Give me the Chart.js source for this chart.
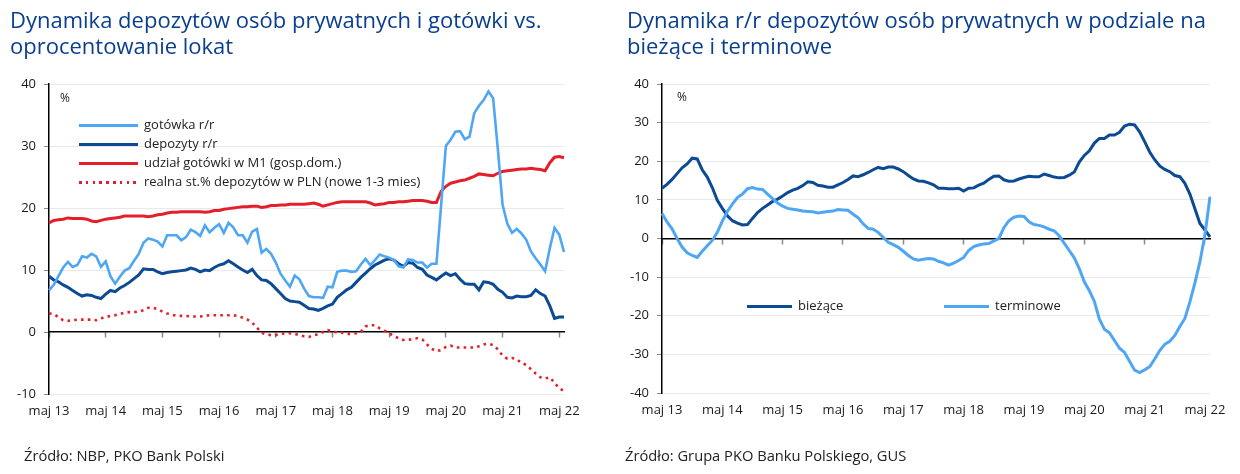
<!DOCTYPE html>
<html><head><meta charset="utf-8">
<script src="https://cdn.jsdelivr.net/npm/chart.js@4"></script>
<style>
html,body{margin:0;padding:0;background:#fff;}
#wrap{position:relative;width:1240px;height:474px;overflow:hidden;font-family:'Open Sans',sans-serif;}
canvas{position:absolute;top:0;}
.title{position:absolute;color:#0a3f8f;font-size:22px;line-height:26px;white-space:nowrap;}
.src{position:absolute;color:#222;font-size:14.7px;white-space:nowrap;}
.pct{position:absolute;color:#222;font-size:12px;}
.leg{position:absolute;font-size:13px;color:#222;white-space:nowrap;line-height:16px;}
.sw{position:absolute;height:3px;}
</style></head>
<body>
<div id="wrap">
  <canvas id="c1" width="620" height="474" style="left:0"></canvas>
  <canvas id="c2" width="620" height="474" style="left:620px"></canvas>
  <div class="title" style="left:10px;top:6px">Dynamika depozytów osób prywatnych i gotówki vs.<br>oprocentowanie lokat</div>
  <div class="title" style="left:627px;top:6px">Dynamika r/r depozytów osób prywatnych w podziale na<br>bieżące i terminowe</div>
  <div class="pct" style="left:60px;top:89px">%</div>
  <div class="pct" style="left:677px;top:88px">%</div>
  <div id="leg1"></div>
  <div id="leg2"></div>
  <div class="src" style="left:24px;top:445px">Źródło: NBP, PKO Bank Polski</div>
  <div class="src" style="left:625px;top:445px">Źródło: Grupa PKO Banku Polskiego, GUS</div>
</div>
<script>
// ---------- DATA ----------
const monthNames = ['sty','lut','mar','kwi','maj','cze','lip','sie','wrz','paź','lis','gru'];
const categories = [];
for (let k = 0; k < 110; k++) { const m = (4 + k) % 12; const y = 13 + Math.floor((4 + k) / 12); categories.push(monthNames[m] + ' ' + y); }
const tickLabels = ['maj 13','maj 14','maj 15','maj 16','maj 17','maj 18','maj 19','maj 20','maj 21','maj 22'];

const gotowka = [6.7,7.6,9.0,10.4,11.3,10.5,10.8,12.2,12.0,12.6,
12.2,10.5,11.4,9.0,7.8,8.9,9.9,10.3,11.5,12.6,
14.4,15.1,14.9,14.6,13.8,15.6,15.6,15.6,14.8,15.3,
16.5,16.1,15.5,17.2,16.1,16.8,17.4,16.0,17.6,16.9,
15.6,15.6,14.4,16.2,16.6,12.8,13.4,12.6,11.2,9.4,
8.3,7.3,9.1,8.5,7.0,5.8,5.6,5.6,5.5,7.3,
7.2,9.7,9.9,9.9,9.7,9.8,10.9,11.8,10.8,11.6,
12.5,12.2,12.0,11.6,10.6,10.4,11.7,11.6,11.2,11.2,
10.4,11.0,11.0,20.5,30.0,31.0,32.3,32.4,31.1,31.5,
35.3,36.5,37.4,38.8,37.7,29.5,20.5,17.5,16.0,16.6,
15.9,14.9,13.0,11.9,10.9,9.8,13.5,16.8,15.7,12.9];

const depozyty = [9.0,8.4,8.1,7.6,7.2,6.7,6.2,5.8,6.0,5.9,
5.6,5.4,6.1,6.7,6.5,7.1,7.5,8.0,8.6,9.2,
10.2,10.1,10.1,9.7,9.4,9.6,9.7,9.8,9.9,10.0,
10.3,10.1,9.7,10.0,9.9,10.4,10.8,11.0,11.5,11.0,
10.5,10.0,9.6,10.1,9.1,8.4,8.3,7.8,7.0,6.2,
5.4,5.0,4.9,4.8,4.3,3.8,3.7,3.5,3.8,4.2,
4.5,5.6,6.2,6.8,7.2,8.0,8.8,9.5,10.2,10.8,
11.2,11.6,11.8,11.6,11.0,10.6,11.2,11.1,10.4,10.1,
9.2,8.8,8.4,9.0,9.5,9.1,9.4,8.5,7.8,7.7,
7.7,6.8,8.1,8.0,7.7,6.9,6.4,5.6,5.5,5.8,
5.7,5.7,5.9,6.8,6.2,5.8,4.2,2.2,2.4,2.4];

const udzialM1 = [17.6,18.0,18.1,18.2,18.4,18.3,18.3,18.3,18.2,17.9,
17.8,18.0,18.2,18.3,18.4,18.5,18.7,18.7,18.7,18.7,
18.7,18.6,18.7,18.9,19.0,19.2,19.3,19.3,19.4,19.4,
19.4,19.4,19.4,19.3,19.4,19.6,19.6,19.8,19.9,20.0,
20.1,20.2,20.2,20.3,20.3,20.1,20.2,20.4,20.4,20.5,
20.5,20.6,20.6,20.6,20.6,20.7,20.8,20.6,20.3,20.5,
20.7,20.9,21.0,21.0,21.0,21.0,21.0,21.0,20.8,20.5,
20.6,20.7,20.9,20.9,21.0,21.0,21.1,21.2,21.2,21.2,
21.1,20.9,20.9,22.7,23.5,24.0,24.2,24.4,24.5,24.8,
25.1,25.5,25.4,25.3,25.2,25.6,25.9,26.0,26.1,26.2,
26.3,26.3,26.4,26.3,26.2,26.0,27.3,28.2,28.3,28.1];

const realna = [3.0,2.9,2.4,1.9,1.8,1.9,2.0,2.0,2.0,2.0,
1.9,2.2,2.4,2.6,2.7,2.9,3.1,3.2,3.2,3.3,
3.5,3.9,3.9,3.7,3.3,3.0,2.8,2.6,2.6,2.6,
2.5,2.5,2.5,2.6,2.7,2.7,2.7,2.7,2.7,2.7,
2.6,2.3,2.0,1.5,0.7,-0.1,-0.4,-0.5,-0.5,-0.3,
-0.2,-0.2,-0.3,-0.5,-0.7,-0.8,-0.5,-0.4,0.0,0.3,
0.1,-0.1,-0.1,-0.3,-0.3,-0.2,0.0,0.9,1.1,1.1,
0.6,0.2,-0.2,-0.7,-1.0,-1.3,-1.3,-1.1,-1.0,-1.2,
-2.0,-2.7,-3.1,-2.9,-2.4,-2.2,-2.5,-2.5,-2.5,-2.5,
-2.5,-2.3,-2.0,-1.9,-2.1,-2.8,-3.8,-4.3,-4.2,-4.4,
-5.0,-5.3,-6.0,-6.7,-7.3,-7.5,-7.3,-8.2,-9.1,-9.5];

const biezace = [13.0,14.0,15.3,16.8,18.3,19.3,20.8,20.6,17.8,15.9,
13.2,9.9,7.8,5.9,4.6,4.0,3.5,3.6,5.2,6.7,
7.8,8.7,9.6,10.2,11.0,11.9,12.5,13.0,13.7,14.7,
14.5,13.8,13.6,13.3,13.3,13.9,14.5,15.3,16.2,16.0,
16.5,17.1,17.8,18.4,18.1,18.5,18.5,18.0,17.3,16.3,
15.4,14.9,14.8,14.4,13.9,13.0,13.0,12.9,12.9,13.0,
12.3,13.0,13.1,13.8,14.3,15.3,16.1,16.2,15.2,14.8,
14.9,15.4,15.8,16.1,16.0,16.0,16.7,16.3,15.9,15.7,
15.8,16.4,17.2,19.8,21.5,22.7,24.7,25.9,25.9,26.8,
26.8,27.5,29.1,29.6,29.4,27.6,25.1,22.4,20.4,18.8,
17.9,17.3,16.3,16.0,14.3,11.5,7.7,3.9,2.2,0.4];

const terminowe = [6.5,4.3,2.5,0.0,-2.2,-3.7,-4.4,-4.9,-3.3,-1.9,
-0.5,1.6,4.5,7.0,8.9,10.6,11.5,12.9,13.2,12.8,
12.7,11.5,10.3,9.2,8.4,7.8,7.6,7.4,7.1,7.0,
6.9,6.6,6.8,7.0,7.1,7.5,7.4,7.3,6.3,5.4,
3.8,2.6,2.4,1.6,0.3,-1.0,-1.6,-2.3,-3.3,-4.4,
-5.3,-5.6,-5.4,-5.2,-5.3,-5.9,-6.3,-6.9,-6.4,-5.7,
-4.9,-3.1,-2.1,-1.7,-1.4,-1.3,-0.6,0.0,2.8,4.6,
5.5,5.8,5.7,4.3,3.6,3.4,3.0,2.4,2.0,0.7,
-1.2,-3.1,-5.0,-7.8,-11.2,-13.5,-16.3,-20.9,-23.5,-24.4,
-26.4,-28.4,-29.5,-31.8,-34.1,-34.7,-34.0,-33.2,-31.2,-29.0,
-27.4,-26.6,-25.1,-22.8,-20.7,-16.4,-11.5,-6.0,1.0,10.8];

// ---------- STYLE ----------
const C_DARK = '#0c4a94';
const C_LIGHT = '#4ea6f4';
const C_RED = '#e3202a';
const FONT = "'Open Sans', sans-serif";

Chart.defaults.font.family = FONT;
Chart.defaults.font.size = 13;
Chart.defaults.color = '#222';
Chart.defaults.devicePixelRatio = 1;

function makeConfig(datasets, yMin, yMax, yWidth, pad) {
  return {
    type: 'line',
    data: { labels: categories, datasets },
    options: {
      responsive: false,
      animation: false,
      events: [],
      layout: { padding: pad },
      plugins: { legend: { display: false }, tooltip: { enabled: false } },
      elements: { point: { radius: 0 }, line: { tension: 0 } },
      scales: {
        x: {
          type: 'category',
          position: 'bottom',
          offset: false,
          grid: { display: false, drawTicks: false },
          border: { display: false },
          ticks: {
            autoSkip: false, maxRotation: 0, minRotation: 0, padding: 9,
            font: { size: 13 }, color: '#1a1a1a',
            callback: function (v, i) { const l = categories[i]; return tickLabels.includes(l) ? l : ''; }
          },
          afterFit: s => { s.height = 30; }
        },
        x0: {
          type: 'category',
          position: { y: 0 },
          offset: false,
          grid: {
            drawOnChartArea: false, drawTicks: true, tickLength: 5,
            color: 'transparent',
            tickColor: ctx => tickLabels.includes(categories[ctx.index]) ? '#8a8a8a' : 'transparent',
            tickWidth: 1.5
          },
          border: { display: true, color: '#000', width: 1.5 },
          ticks: { display: false }
        },
        y: {
          min: yMin, max: yMax,
          ticks: { stepSize: 10, padding: 8, font: { size: 13 }, color: '#1a1a1a' },
          grid: {
            color: ctx => ctx.tick && ctx.tick.value === 0 ? 'transparent' : '#e9e9e9',
            tickColor: '#8a8a8a', tickLength: 5, lineWidth: 1
          },
          border: { display: true, color: '#000', width: 1.5, dash: [] },
          afterFit: s => { s.width = yWidth; }
        }
      }
    }
  };
}

new Chart(document.getElementById('c1'), makeConfig([
  { label: 'realna st.% depozytów w PLN (nowe 1-3 mies)', data: realna, borderColor: C_RED, borderWidth: 2.6, borderDash: [2.6, 4.2], borderCapStyle: 'butt', fill: false },
  { label: 'gotówka r/r', data: gotowka, borderColor: C_LIGHT, borderWidth: 2.6, fill: false },
  { label: 'depozyty r/r', data: depozyty, borderColor: C_DARK, borderWidth: 3, fill: false },
  { label: 'udział gotówki w M1 (gosp.dom.)', data: udzialM1, borderColor: C_RED, borderWidth: 3, fill: false }
], -10, 40, 49, { left: 0, right: 56, top: 84, bottom: 50 }));

new Chart(document.getElementById('c2'), makeConfig([
  { label: 'terminowe', data: terminowe, borderColor: C_LIGHT, borderWidth: 3, fill: false },
  { label: 'bieżące', data: biezace, borderColor: C_DARK, borderWidth: 3, fill: false }
], -40, 40, 42, { left: 0, right: 30, top: 84, bottom: 51 }));

// ---------- HTML legends ----------
function legendItem(parent, x, y, w, color, text, dotted) {
  const sw = document.createElement('div');
  sw.className = 'sw';
  sw.style.left = x + 'px'; sw.style.top = (y - 1.5) + 'px'; sw.style.width = w + 'px';
  sw.style.background = dotted
    ? 'repeating-linear-gradient(90deg,' + color + ' 0 2.6px, transparent 2.6px 6.8px)'
    : color;
  parent.appendChild(sw);
  const t = document.createElement('div');
  t.className = 'leg';
  t.style.left = (x + w + 6) + 'px'; t.style.top = (y - 9) + 'px';
  t.textContent = text;
  parent.appendChild(t);
}
const wrap = document.getElementById('wrap');
legendItem(wrap, 79, 125, 59, C_LIGHT, 'gotówka r/r', false);
legendItem(wrap, 79, 144, 59, C_DARK, 'depozyty r/r', false);
legendItem(wrap, 79, 163, 59, C_RED, 'udział gotówki w M1 (gosp.dom.)', false);
legendItem(wrap, 79, 182, 59, C_RED, 'realna st.% depozytów w PLN (nowe 1-3 mies)', true);
legendItem(wrap, 747, 306, 45, C_DARK, 'bieżące', false);
legendItem(wrap, 944, 306, 45, C_LIGHT, 'terminowe', false);
</script>
</body></html>
